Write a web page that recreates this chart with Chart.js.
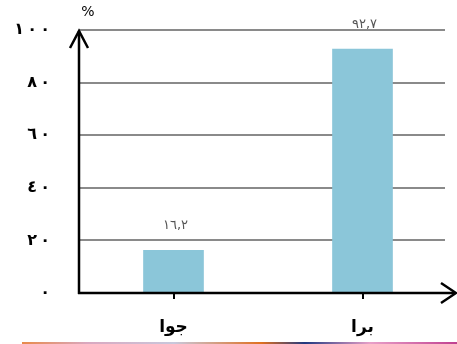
<!DOCTYPE html>
<html>
<head>
<meta charset="utf-8">
<script src="https://cdn.jsdelivr.net/npm/chart.js@4/dist/chart.umd.min.js"></script>
<style>
  html, body { margin: 0; padding: 0; background: #fff; }
  #wrap { position: relative; width: 457px; height: 344px; }
  #strip { position: absolute; left: 22px; right: 0; bottom: 0; height: 2px;
    background: linear-gradient(to right, #e88a4a, #d9a8c0 15%, #c8c8dc 35%, #e07020 55%, #203880 65%, #e8a0c8 80%, #c04090); }
</style>
</head>
<body>
<div id="wrap">
  <canvas id="c" width="457" height="344"></canvas>
  <div id="strip"></div>
</div>
<script>
const categories = ['جوا', 'برا'];
const values = [16.2, 92.7];
const valueLabels = ['١٦,٢', '٩٢,٧'];
const yMin = 0, yMax = 100, yStep = 20;
const unitLabel = '%';

const AR_DIGITS = '٠١٢٣٤٥٦٧٨٩';
function toArabic(n) {
  return '\u202D' + String(n).replace(/[0-9]/g, d => AR_DIGITS[+d]).split('').join('\u2009') + '\u202C';
}

const FONT = '"DejaVu Sans", "Liberation Sans", sans-serif';

const decor = {
  id: 'decor',
  beforeDatasetsDraw(chart) {
    const { ctx, chartArea, scales: { y } } = chart;
    ctx.save();
    ctx.strokeStyle = '#8a8a8a';
    ctx.lineWidth = 2;
    for (let v = yMin + yStep; v <= yMax; v += yStep) {
      const py = Math.round(y.getPixelForValue(v));
      ctx.beginPath();
      ctx.moveTo(chartArea.left, py);
      ctx.lineTo(445, py);
      ctx.stroke();
    }
    ctx.restore();
  },
  afterDatasetsDraw(chart) {
    const { ctx, chartArea, scales: { x, y } } = chart;
    const left = chartArea.left, bottom = Math.round(y.getPixelForValue(yMin)), top = y.getPixelForValue(yMax);
    ctx.save();
    ctx.strokeStyle = '#000';
    ctx.lineWidth = 2.5;
    ctx.lineCap = 'butt';
    // y axis
    ctx.beginPath();
    ctx.moveTo(left, bottom + 1);
    ctx.lineTo(left, top + 1);
    ctx.stroke();
    ctx.beginPath();
    ctx.moveTo(left - 9, top + 18);
    ctx.lineTo(left, top + 1);
    ctx.lineTo(left + 9, top + 18);
    ctx.stroke();
    // x axis
    ctx.beginPath();
    ctx.moveTo(left - 1, bottom);
    ctx.lineTo(455, bottom);
    ctx.stroke();
    ctx.beginPath();
    ctx.moveTo(441, bottom - 10);
    ctx.lineTo(456, bottom);
    ctx.lineTo(441, bottom + 10);
    ctx.stroke();
    // x ticks
    ctx.lineWidth = 2;
    categories.forEach((c, i) => {
      const px = Math.round(x.getPixelForValue(i));
      ctx.beginPath();
      ctx.moveTo(px, bottom);
      ctx.lineTo(px, bottom + 6);
      ctx.stroke();
    });
    // unit label
    ctx.fillStyle = '#000';
    ctx.font = '14px ' + FONT;
    ctx.textAlign = 'center';
    ctx.textBaseline = 'middle';
    ctx.fillText(unitLabel, left + 9, 12);
    // value labels
    ctx.fillStyle = '#555';
    ctx.font = '13px ' + FONT;
    if ('letterSpacing' in ctx) ctx.letterSpacing = '4px';
    ctx.textBaseline = 'bottom';
    const meta = chart.getDatasetMeta(0);
    meta.data.forEach((bar, i) => {
      ctx.fillText(valueLabels[i], bar.x + 2, bar.y - 18);
    });
    ctx.restore();
  }
};

new Chart(document.getElementById('c'), {
  type: 'bar',
  data: {
    labels: categories,
    datasets: [{
      data: values,
      backgroundColor: '#8bc6d9',
      borderWidth: 0,
      barThickness: 60
    }]
  },
  options: {
    responsive: false,
    animation: false,
    layout: { padding: { top: 30, right: 0, bottom: 0, left: 0 } },
    plugins: { legend: { display: false }, tooltip: { enabled: false } },
    scales: {
      x: {
        grid: { display: false, drawTicks: false },
        border: { display: false },
        ticks: { color: '#000', font: { family: FONT, size: 17, weight: 'bold' }, padding: 24 },
        afterFit(s) { s.height = 51; s.paddingLeft = 0; s.paddingRight = 0; }
      },
      y: {
        min: yMin, max: yMax,
        grid: { display: false, drawTicks: false },
        border: { display: false },
        ticks: {
          stepSize: yStep,
          color: '#000',
          font: { family: FONT, size: 16, weight: 'bold' },
          padding: 29,
          callback: v => toArabic(v)
        },
        afterFit(s) { s.width = 79; s.paddingTop = 0; s.paddingBottom = 0; }
      }
    }
  },
  plugins: [decor]
});
</script>
</body>
</html>
